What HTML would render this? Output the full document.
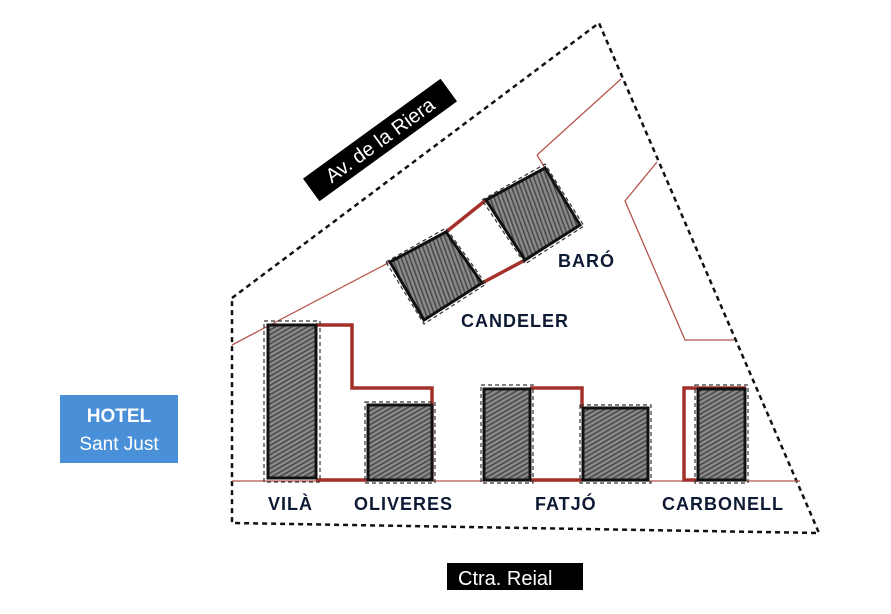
<!DOCTYPE html>
<html><head><meta charset="utf-8"><style>
body{margin:0;background:#fff;width:891px;height:609px;overflow:hidden;font-family:"Liberation Sans",sans-serif}
</style></head><body>
<svg width="891" height="609" viewBox="0 0 891 609" xmlns="http://www.w3.org/2000/svg">
<defs>
<pattern id="h" patternUnits="userSpaceOnUse" width="4" height="4" patternTransform="rotate(60)">
<rect width="4" height="4" fill="#8a8a8a"/><rect width="1.6" height="4" fill="#4a4a4a"/>
</pattern>
<pattern id="h2" patternUnits="userSpaceOnUse" width="4" height="4" patternTransform="rotate(-20)">
<rect width="4" height="4" fill="#8a8a8a"/><rect width="1.6" height="4" fill="#4a4a4a"/>
</pattern>
</defs>
<polygon points="232,298 599,23 819,533 232,523" fill="none" stroke="#111" stroke-width="2.5" stroke-dasharray="5,4"/>
<g stroke="#b5554d" stroke-width="1.3" fill="none">
<polyline points="232,345 390,262"/>
<polyline points="537,155 621,79"/>
<polyline points="537,155 545,168"/>
<polyline points="657,162 625,201 685,340 734,340"/>
<line x1="232" y1="481" x2="800" y2="481"/>
</g>
<g stroke="#a5302a" stroke-width="3.5" fill="none">
<polyline points="316,325 352,325 352,388 432,388 432,481"/>
<line x1="316" y1="480" x2="368" y2="480"/>
<polyline points="530,388 582,388 582,408"/>
<line x1="530" y1="480" x2="583" y2="480"/>
<polyline points="698,480 684,480 684,388 746,388"/>
<line x1="446" y1="232" x2="486" y2="200"/>
<line x1="482" y1="283" x2="525" y2="260"/>
</g>
<g stroke="#111" stroke-width="3">
<rect x="268" y="325" width="48" height="153" fill="url(#h)"/>
<rect x="368" y="405" width="64" height="75" fill="url(#h)"/>
<rect x="484" y="389" width="46" height="91" fill="url(#h)"/>
<rect x="583" y="408" width="65" height="72" fill="url(#h)"/>
<rect x="698" y="389" width="47" height="91" fill="url(#h)"/>
<polygon points="390,262 446,232 482,283 424,320" fill="url(#h2)"/>
<polygon points="486,200 545,168 580,225 525,260" fill="url(#h2)"/>
</g>
<g stroke="#333" stroke-width="1.2" fill="none" stroke-dasharray="4,3">
<rect x="264" y="321" width="56" height="161"/>
<rect x="365" y="402" width="70" height="81"/>
<rect x="481" y="385" width="52" height="98"/>
<rect x="580" y="405" width="71" height="78"/>
<rect x="695" y="385" width="53" height="98"/>
<polygon points="386,262 446,228 486,284 424,324"/>
<polygon points="482,200 545,164 584,226 525,264"/>
</g>
<g font-family="'Liberation Sans',sans-serif" font-weight="bold" font-size="18" letter-spacing="1" fill="#0d1a33">
<text x="268" y="510">VILÀ</text>
<text x="354" y="510">OLIVERES</text>
<text x="535" y="510">FATJÓ</text>
<text x="662" y="510">CARBONELL</text>
<text x="558" y="267">BARÓ</text>
<text x="461" y="327">CANDELER</text>
</g>
<g transform="translate(380,140) rotate(-36)">
<rect x="-85" y="-14" width="170" height="28" fill="#000"/>
<text x="0" y="7" text-anchor="middle" font-size="20" fill="#fff">Av. de la Riera</text>
</g>
<rect x="447" y="563" width="136" height="27" fill="#000"/>
<text x="458" y="585" font-size="20" fill="#fff">Ctra. Reial</text>
<rect x="60" y="395" width="118" height="68" fill="#4a90d9"/>
<text x="119" y="422" text-anchor="middle" font-size="19" font-weight="bold" fill="#fff">HOTEL</text>
<text x="119" y="450" text-anchor="middle" font-size="19" fill="#fff">Sant Just</text>
</svg>
</body></html>
